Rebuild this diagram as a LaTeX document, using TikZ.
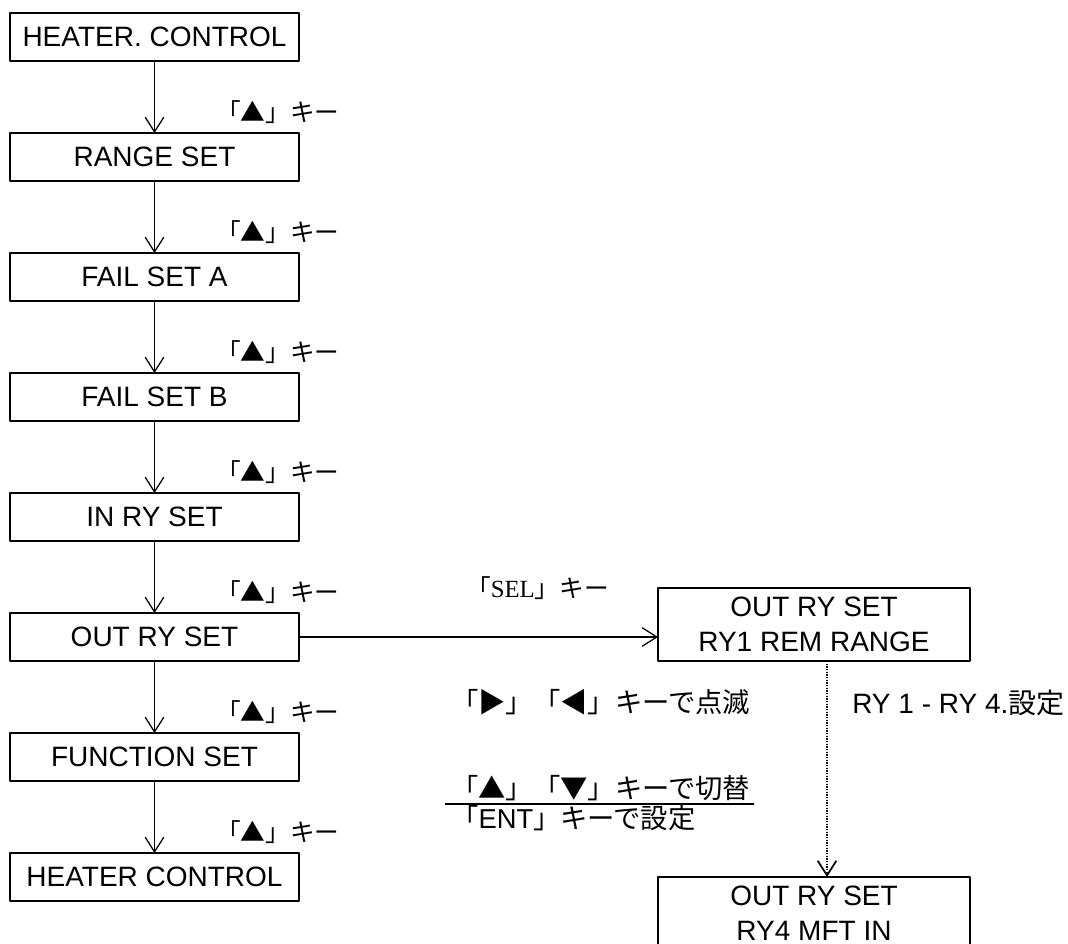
\documentclass[tikz,border=0pt]{standalone}
\usepackage{fontspec}
\setmainfont{Liberation Sans}
\newfontfamily\jpfont{Noto Sans CJK JP}
\newfontfamily\serifrm{Liberation Serif}
\usetikzlibrary{arrows.meta}
\tikzset{
  every picture/.style={line join=round, >={Straight Barb[length=11pt,width=14pt]}},
  menubox/.style={draw, line width=1pt, inner sep=0pt, outer sep=0pt,
    minimum width=216.75pt, minimum height=36pt, font=\fontsize{21}{25}\selectfont},
  subbox/.style={draw, line width=1pt, inner sep=0pt, outer sep=0pt, align=center,
    minimum width=234pt, minimum height=54.75pt, font=\fontsize{21}{26.25}\selectfont},
  keylbl/.style={anchor=west, inner sep=0pt, font=\jpfont\fontsize{18.5}{22}\selectfont},
  notelbl/.style={anchor=west, inner sep=0pt, font=\jpfont\fontsize{20.5}{24}\selectfont},
  flow/.style={->, line width=0.95pt},
}

\begin{document}
\begin{tikzpicture}[x=0.75pt,y=-0.75pt]
\useasboundingbox (0,0) rectangle (1068,943);
\clip (0,0) rectangle (1068,943);
% menu column
\node[menubox] (hc1) at (154.5,37) {HEATER. CONTROL};
\node[menubox] (rng) at (154.5,157) {RANGE SET};
\node[menubox] (fsa) at (154.5,277) {FAIL SET A};
\node[menubox] (fsb) at (154.5,397) {FAIL SET B};
\node[menubox] (iry) at (154.5,517) {IN RY SET};
\node[menubox] (ory) at (154.5,637) {OUT RY SET};
\node[menubox] (fnc) at (154.5,757) {FUNCTION SET};
\node[menubox] (hc2) at (154.5,877) {HEATER CONTROL};
\foreach \a/\b/\y in {hc1/rng/112,rng/fsa/232,fsa/fsb/352,fsb/iry/472,iry/ory/592,ory/fnc/712,fnc/hc2/832}{
  \draw[flow] (\a) -- (\b);
  \node[keylbl] (k\b) at (216,\y) {「▲」キー};
}
% relay settings
\node[subbox] (rem) at (814,624.5) {OUT RY SET\\RY1 REM RANGE};
\node[subbox] (mft) at (814,913.5) {OUT RY SET\\RY4 MFT IN};
\draw[flow] (ory.east) -- (ory.east -| rem.west);
\node[keylbl] (sel) at (466,588) {「{\serifrm SEL}」キー};
\draw[flow, line width=1.3pt, dash pattern=on 1pt off 1pt] ([xshift=9.75pt]rem.south) -- ([xshift=9.75pt]mft.north);
\node[anchor=west, inner sep=0pt, font=\fontsize{21}{25}\selectfont] (ry) at (852,703) {RY 1 - RY 4.{\jpfont 設定}};
\node[notelbl] (blink) at (451,702) {「▶」「◀」キーで点滅};
\node[notelbl] (chg) at (451,788) {「▲」「▼」キーで切替};
\node[notelbl] (ent) at (451,818) {「{\rmfamily ENT}」キーで設定};
\draw[line width=1pt] (445,804) -- (754,804);
\end{tikzpicture}
\end{document}
